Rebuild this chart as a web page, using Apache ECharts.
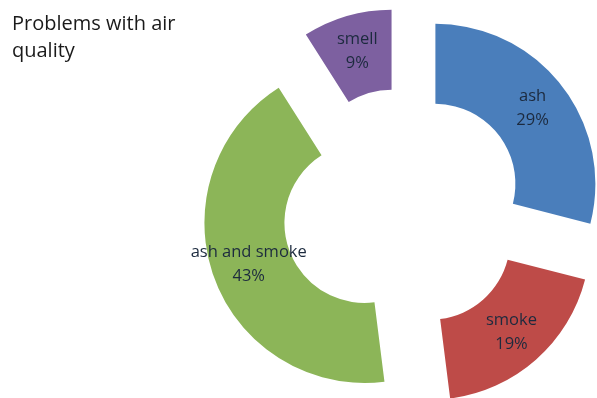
<!DOCTYPE html>
<html>
<head>
<meta charset="utf-8">
<script src="https://cdn.jsdelivr.net/npm/echarts@6/dist/echarts.min.js"></script>
<style>html,body{margin:0;padding:0;background:#fff}#c{width:597px;height:398px}</style>
</head>
<body>
<div id="c"></div>
<script>
const categories = ["ash", "smoke", "ash and smoke", "smell"];
const values = [29, 19, 43, 9];
const colors = ["#4a7ebb", "#be4b48", "#8cb558", "#7d60a0"];
const titleText = "Problems with air\nquality";

const chart = echarts.init(document.getElementById('c'));
chart.setOption({
  animation: false,
  title: {
    text: titleText,
    left: 7, top: 6,
    textStyle: { fontFamily: "Open Sans", fontSize: 20, fontWeight: "normal", color: "#1a1a1a", lineHeight: 27 }
  },
  series: [{
    type: 'pie',
    center: [403, 209],
    radius: [80, 160],
    startAngle: 90,
    clockwise: true,
    selectedMode: 'multiple',
    selectedOffset: 41,
    avoidLabelOverlap: false,
    emphasis: { disabled: true },
    select: { itemStyle: { borderWidth: 0 } },
    itemStyle: { borderWidth: 0 },
    label: {
      show: true,
      position: 'inside',
      formatter: '{b}\n{c}%',
      fontFamily: "Open Sans",
      fontSize: 16.5,
      lineHeight: 24,
      color: "#1c2a3e"
    },
    labelLine: { show: false },
    data: categories.map((n, i) => ({ name: n, value: values[i], selected: true, itemStyle: { color: colors[i] } }))
  }]
});
</script>
</body>
</html>
